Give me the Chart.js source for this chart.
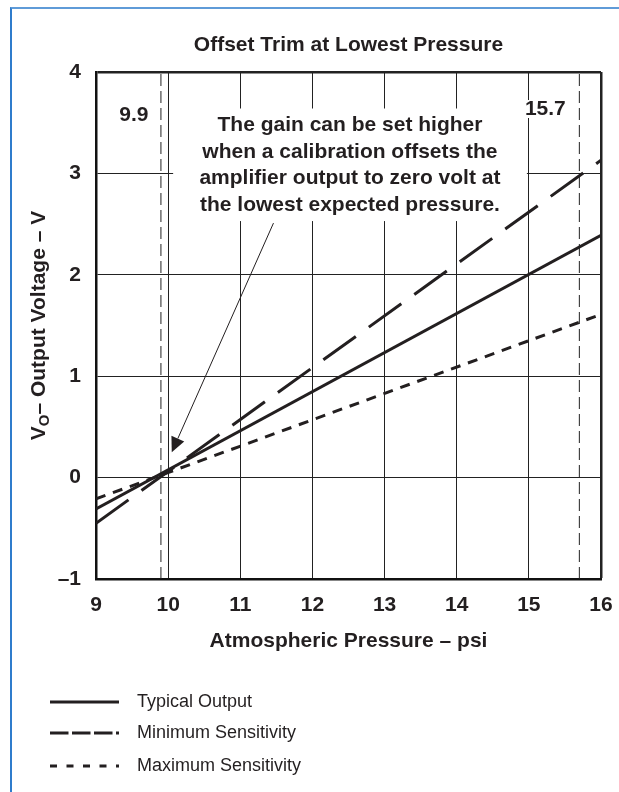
<!DOCTYPE html>
<html><head><meta charset="utf-8">
<script src="https://cdn.jsdelivr.net/npm/chart.js@4.4.1/dist/chart.umd.min.js"></script>
<style>
html,body{margin:0;padding:0;background:#fff;}
#wrap{position:relative;width:619px;height:792px;overflow:hidden;}
#frame{position:absolute;left:10px;top:7px;width:620px;height:800px;border-left:2px solid #2f7ccc;border-top:2px solid #5f9bd8;pointer-events:none;}
canvas{display:block;}
</style></head><body>
<div id="wrap"><canvas id="c" width="619" height="792"></canvas><div id="frame"></div></div>
<script>
// ---- data ----
const pressure = [9, 16];
const typicalOutput = [-0.31, 2.39];
const minSensitivity = [-0.45, 3.13];
const maxSensitivity = [-0.21, 1.61];
const seriesNames = ['Typical Output', 'Minimum Sensitivity', 'Maximum Sensitivity'];
const markerPressures = [9.9, 15.7];
const markerLabels = ['9.9', '15.7'];
const xTickValues = [9, 10, 11, 12, 13, 14, 15, 16];
const yTickValues = [-1, 0, 1, 2, 3, 4];
const yTickLabels = ['–1', '0', '1', '2', '3', '4'];
const chartTitle = 'Offset Trim at Lowest Pressure';
const xTitle = 'Atmospheric Pressure – psi';
const yTitleMain = 'V', yTitleSub = 'O', yTitleRest = '– Output Voltage – V';
const noteLines = ['The gain can be set higher', 'when a calibration offsets the', 'amplifier output to zero volt at', 'the lowest expected pressure.'];

const FONT = "'Liberation Sans', Arial, Helvetica, sans-serif";
const INK = '#231f20';

function pts(ys) { return pressure.map((p, i) => ({x: p, y: ys[i]})); }
function vline(p) { return [{x: p, y: yTickValues[0]}, {x: p, y: yTickValues[yTickValues.length - 1]}]; }

const markerSets = markerPressures.map(p => ({
  label: 'marker ' + p, data: vline(p), borderColor: '#222', borderWidth: 1,
  borderDash: [12, 5], pointRadius: 0, fill: false, isMarker: true
}));

const mainSets = [
  {label: seriesNames[0], data: pts(typicalOutput), borderColor: INK, borderWidth: 3, borderDash: [], legendDash: []},
  {label: seriesNames[1], data: pts(minSensitivity), borderColor: INK, borderWidth: 3, borderDash: [40, 16], legendDash: [18.5, 3.5]},
  {label: seriesNames[2], data: pts(maxSensitivity), borderColor: INK, borderWidth: 3, borderDash: [10, 8], legendDash: [7, 9.5]}
].map(d => Object.assign(d, {pointRadius: 0, fill: false, tension: 0, borderCapStyle: 'butt'}));

const deco = {
  id: 'deco',
  beforeDatasetsDraw(chart) {
    const {ctx, chartArea: ca, scales: {x: xs, y: ys}} = chart;
    ctx.save();
    ctx.fillStyle = '#fff';
    const l = xs.getPixelForValue(10) + 5, r = xs.getPixelForValue(15) - 2;
    const t = ys.getPixelForValue(3.64), b = ys.getPixelForValue(2.53);
    ctx.fillRect(l, t, r - l, b - t);
    const m2 = xs.getPixelForValue(markerPressures[1]);
    ctx.fillRect(m2 - 54, ca.top + 28, 40, 18);
    ctx.restore();
  },
  afterDatasetsDraw(chart) {
    const {ctx, chartArea: ca, scales: {x: xs, y: ys}} = chart;
    ctx.save();
    ctx.fillStyle = INK;
    ctx.font = 'bold 21px ' + FONT;
    ctx.textAlign = 'center';
    ctx.textBaseline = 'alphabetic';
    const cx = xs.getPixelForValue(12.52);
    noteLines.forEach((s, i) => ctx.fillText(s, cx, ca.top + 59 + i * 26.5));
    ctx.textBaseline = 'middle';
    ctx.fillText(markerLabels[0], xs.getPixelForValue(markerPressures[0]) - 27, ca.top + 43);
    ctx.fillText(markerLabels[1], xs.getPixelForValue(markerPressures[1]) - 34, ca.top + 37);
    const x0 = xs.getPixelForValue(11.46), y0 = ys.getPixelForValue(2.51);
    const x1 = xs.getPixelForValue(10.05), y1 = ys.getPixelForValue(0.25);
    const ang = Math.atan2(y1 - y0, x1 - x0);
    const hl = 15, hw = 7;
    const bx = x1 - hl * Math.cos(ang), by = y1 - hl * Math.sin(ang);
    ctx.strokeStyle = INK; ctx.lineWidth = 1;
    ctx.beginPath(); ctx.moveTo(x0, y0); ctx.lineTo(bx, by); ctx.stroke();
    ctx.beginPath();
    ctx.moveTo(x1, y1);
    ctx.lineTo(bx + hw * Math.sin(ang), by - hw * Math.cos(ang));
    ctx.lineTo(bx - hw * Math.sin(ang), by + hw * Math.cos(ang));
    ctx.closePath(); ctx.fill();
    ctx.restore();
  },
  afterDraw(chart) {
    const {ctx, chartArea: ca} = chart;
    ctx.save();
    ctx.fillStyle = INK;
    ctx.font = 'bold 21px ' + FONT;
    ctx.textAlign = 'center'; ctx.textBaseline = 'middle';
    ctx.fillText(chartTitle, (ca.left + ca.right) / 2, 45);
    ctx.translate(45, (ca.top + ca.bottom) / 2);
    ctx.rotate(-Math.PI / 2);
    ctx.textAlign = 'left'; ctx.textBaseline = 'alphabetic';
    const big = 'bold 21px ' + FONT, small = 'bold 15px ' + FONT;
    ctx.font = big; const w1 = ctx.measureText(yTitleMain).width;
    ctx.font = small; const w2 = ctx.measureText(yTitleSub).width;
    ctx.font = big; const w3 = ctx.measureText(yTitleRest).width;
    let sx = -(w1 + w2 + w3) / 2;
    ctx.fillText(yTitleMain, sx, 0); sx += w1;
    ctx.font = small; ctx.fillText(yTitleSub, sx, 4); sx += w2;
    ctx.font = big; ctx.fillText(yTitleRest, sx, 0);
    ctx.setTransform(1, 0, 0, 1, 0, 0);
    const rows = [702, 733, 766];
    chart.data.datasets.filter(d => !d.isMarker).forEach((d, i) => {
      ctx.strokeStyle = d.borderColor; ctx.lineWidth = 3; ctx.lineCap = 'butt';
      ctx.setLineDash(d.legendDash);
      ctx.beginPath(); ctx.moveTo(50, rows[i]); ctx.lineTo(119, rows[i]); ctx.stroke();
      ctx.setLineDash([]);
      ctx.font = '18px ' + FONT; ctx.textAlign = 'left'; ctx.textBaseline = 'middle';
      ctx.fillText(d.label, 137, rows[i]);
    });
    ctx.restore();
  }
};

new Chart(document.getElementById('c'), {
  type: 'line',
  data: {datasets: [...markerSets, ...mainSets]},
  options: {
    responsive: false, animation: false, devicePixelRatio: 1,
    layout: {padding: {top: 72, right: 18, left: 0, bottom: 0}},
    plugins: {legend: {display: false}, tooltip: {enabled: false}, title: {display: false}},
    scales: {
      x: {
        type: 'linear', min: xTickValues[0], max: xTickValues[xTickValues.length - 1],
        afterBuildTicks: s => { s.ticks = xTickValues.map(v => ({value: v})); },
        afterFit: s => { s.height = 213; s.paddingRight = 0; s.paddingLeft = 0; },
        ticks: {color: INK, font: {family: FONT, size: 21, weight: 'bold'}, padding: 14, maxRotation: 0, callback: v => String(v)},
        grid: {color: '#222', lineWidth: c => (c.tick && c.tick.value === 16) ? 2.5 : 1, drawTicks: false},
        border: {display: true, color: '#111', width: 2.5},
        title: {display: true, text: xTitle, color: INK, font: {family: FONT, size: 21, weight: 'bold'}, padding: {top: 0, bottom: 138}}
      },
      y: {
        type: 'linear', min: yTickValues[0], max: yTickValues[yTickValues.length - 1],
        afterBuildTicks: s => { s.ticks = yTickValues.map(v => ({value: v})); },
        afterFit: s => { s.width = 96; s.paddingTop = 0; s.paddingBottom = 0; },
        ticks: {color: INK, font: {family: FONT, size: 21, weight: 'bold'}, padding: 15, callback: v => yTickLabels[yTickValues.indexOf(v)]},
        grid: {color: '#222', lineWidth: c => (c.tick && c.tick.value === 4) ? 2.5 : 1, drawTicks: false},
        border: {display: true, color: '#111', width: 2.5}
      }
    }
  },
  plugins: [deco]
});
</script>
</body></html>
